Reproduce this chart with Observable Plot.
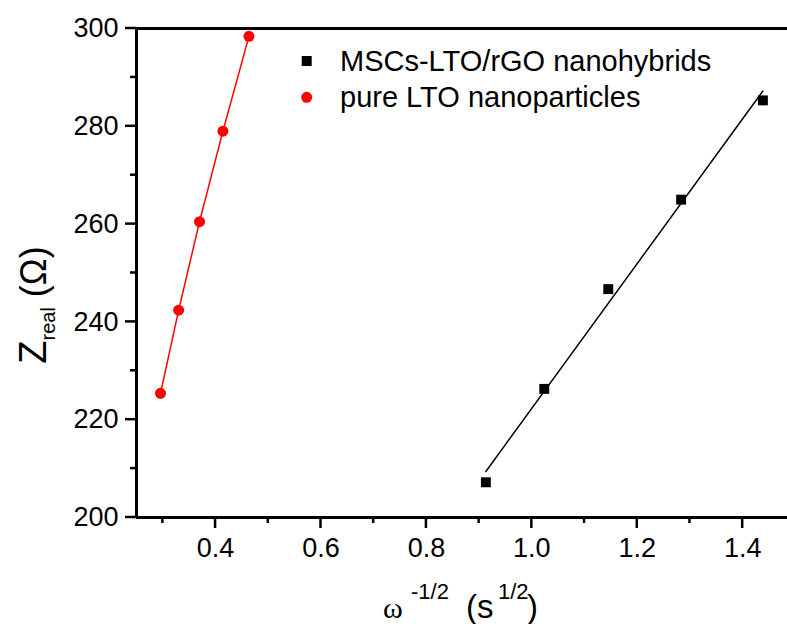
<!DOCTYPE html>
<html><head><meta charset="utf-8">
<script src="https://cdn.jsdelivr.net/npm/d3@7"></script>
<script src="https://cdn.jsdelivr.net/npm/@observablehq/plot@0.6"></script>
<style>body{margin:0;background:#fff} svg{display:block}</style>
</head><body><div id="chart"></div>
<script>
// Data
const seriesNames = ["MSCs-LTO/rGO nanohybrids", "pure LTO nanoparticles"];
const hybridX = [0.9128, 1.0236, 1.145, 1.2832, 1.4383];
const hybridY = [207.2, 226.3, 246.7, 265.0, 285.3];
const pureX = [0.2955, 0.330, 0.3696, 0.4139, 0.4633];
const pureY = [225.4, 242.4, 260.5, 279.0, 298.4];
const xMajor = [0.4, 0.6, 0.8, 1.0, 1.2, 1.4];
const xMinor = [0.3, 0.5, 0.7, 0.9, 1.1, 1.3];
const yMajor = [200, 220, 240, 260, 280, 300];
const yMinor = [210, 230, 250, 270, 290];
const xDomain = [0.25, 1.485];
const yDomain = [200, 300];

const hybrid = hybridX.map((x, i) => ({x, y: hybridY[i]}));
const pure = pureX.map((x, i) => ({x, y: pureY[i]}));

const FONT = "'Liberation Sans', Arial, sans-serif";

const chart = Plot.plot({
  width: 787, height: 624,
  marginLeft: 136, marginRight: 0, marginTop: 28, marginBottom: 107,
  x: {domain: xDomain, label: null},
  y: {domain: yDomain, label: null},
  style: {fontFamily: FONT, background: "#fff", color: "#000"},
  marks: [
    Plot.ruleX([xDomain[0]], {strokeWidth: 3}),
    Plot.ruleY([yDomain[0]], {strokeWidth: 3}),
    Plot.ruleY([yDomain[1]], {strokeWidth: 3}),
    Plot.axisY(yMajor, {tickSize: 0, tickPadding: 18, fontSize: 27, label: null, tickFormat: d => d}),
    Plot.axisX(xMajor, {tickSize: 0, tickPadding: 20, fontSize: 27, label: null, tickFormat: d => d.toFixed(1)}),
    Plot.line(pure, {x: "x", y: "y", stroke: "#ff0000", strokeWidth: 1.5}),
    Plot.dot(pure, {x: "x", y: "y", r: 5.5, fill: "#ff0000", stroke: null}),
    Plot.linearRegressionY(hybrid, {x: "x", y: "y", ci: 0, stroke: "#000", strokeWidth: 1.5}),
    Plot.dot(hybrid, {x: "x", y: "y", symbol: "square", r: 5.6, fill: "#000", stroke: null})
  ]
});
document.getElementById("chart").appendChild(chart);

const svg = d3.select(chart);
const sx = chart.scale("x"), sy = chart.scale("y");
const x0 = sx.apply(xDomain[0]), y0 = sy.apply(yDomain[0]);

// Tick marks through Plot's scales
const tk = svg.append("g").attr("stroke", "#000").attr("stroke-width", 2.5);
[[yMajor, 11], [yMinor, 6]].forEach(([vals, len]) => vals.forEach(v => {
  const y = sy.apply(v);
  tk.append("line").attr("x1", x0 - len).attr("x2", x0).attr("y1", y).attr("y2", y);
}));
[[xMajor, 11], [xMinor, 6]].forEach(([vals, len]) => vals.forEach(v => {
  const x = sx.apply(v);
  tk.append("line").attr("x1", x).attr("x2", x).attr("y1", y0).attr("y2", y0 + len);
}));

// Legend
const lg = svg.append("g").attr("font-family", FONT).attr("font-size", 29).attr("fill", "#000").attr("text-anchor", "start");
lg.append("rect").attr("x", 301.7).attr("y", 56).attr("width", 10).attr("height", 10).attr("fill", "#000");
lg.append("text").attr("x", 340).attr("y", 61).attr("dy", "0.35em").text(seriesNames[0]);
lg.append("circle").attr("cx", 306.7).attr("cy", 97.3).attr("r", 5.5).attr("fill", "#ff0000");
lg.append("text").attr("x", 340).attr("y", 97.3).attr("dy", "0.35em").text(seriesNames[1]);

// X axis label
const xl = svg.append("text").attr("y", 618).attr("text-anchor", "start")
  .attr("font-family", FONT).attr("fill", "#000");
xl.append("tspan").attr("x", 383).attr("font-family", "'Liberation Serif', 'DejaVu Serif', serif").attr("font-size", 30).text("ω");
xl.append("tspan").attr("x", 411).attr("dy", -19).attr("font-size", 22).text("-1/2");
xl.append("tspan").attr("x", 466).attr("dy", 19).attr("font-size", 33).text("(s");
xl.append("tspan").attr("x", 498).attr("dy", -19).attr("font-size", 22).text("1/2");
xl.append("tspan").attr("x", 527).attr("dy", 19).attr("font-size", 33).text(")");

// Y axis label
const yl = svg.append("text").attr("transform", "translate(46,305) rotate(-90)")
  .attr("text-anchor", "middle").attr("font-family", FONT).attr("fill", "#000");
yl.append("tspan").attr("font-size", 38).text("Z");
yl.append("tspan").attr("dy", 9).attr("font-size", 20).text("real");
yl.append("tspan").attr("dy", -9).attr("font-size", 36).text(" (Ω)");
</script>
</body></html>
